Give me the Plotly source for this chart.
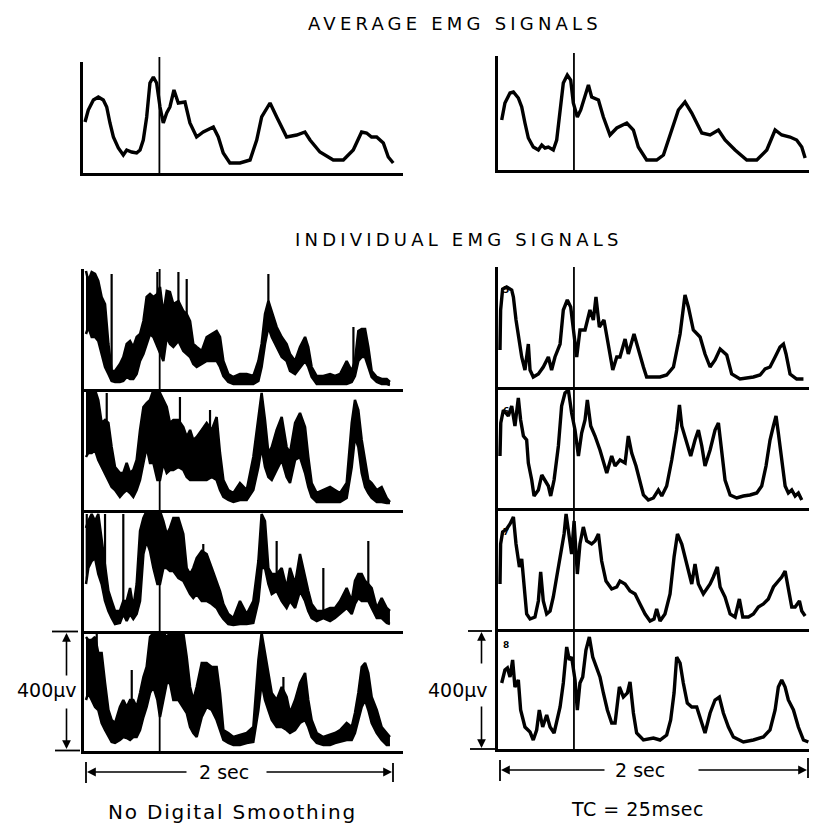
import numpy as np
import plotly.graph_objects as go

W, H = 817, 835          # target window
OFF = 8                  # default page body margin
FW, FH = W - OFF, H - OFF
FONT = "DejaVu Sans"

# ---------------- DATA ----------------
# time in seconds, amplitude in display units (120 units = 400 uV)
EVENT_T = 0.48
trial_labels = ["5", "6", "7", "8"]

# Average EMG, no digital smoothing
avg_raw_t = [0.0, 0.021, 0.054, 0.086, 0.118, 0.14, 0.161, 0.183, 0.215, 0.247,
             0.269, 0.301, 0.333, 0.355, 0.376, 0.398, 0.419, 0.441, 0.462, 0.484,
             0.505, 0.527, 0.548, 0.574, 0.602, 0.645, 0.677, 0.72, 0.763, 0.828,
             0.86, 0.892, 0.935, 1.0, 1.065, 1.108, 1.14, 1.194, 1.237, 1.301,
             1.366, 1.419, 1.452, 1.516, 1.602, 1.667, 1.731, 1.785, 1.817, 1.849,
             1.882, 1.925, 1.957, 1.989]
avg_raw_amp = [51, 63, 73, 76, 73, 66, 50, 36, 25, 18,
               23, 21, 20, 23, 33, 56, 90, 96, 90, 66,
               50, 60, 66, 83, 70, 71, 50, 36, 41, 46,
               36, 20, 10, 10, 13, 33, 56, 70, 56, 36,
               38, 41, 33, 21, 13, 13, 23, 41, 40, 36,
               36, 30, 16, 10]

# Average EMG, TC = 25 msec
avg_tc_t = [0.011, 0.032, 0.065, 0.087, 0.119, 0.141, 0.162, 0.184, 0.216, 0.249,
            0.271, 0.292, 0.314, 0.346, 0.368, 0.39, 0.411, 0.437, 0.459, 0.476,
            0.502, 0.524, 0.552, 0.574, 0.595, 0.639, 0.671, 0.714, 0.758, 0.823,
            0.866, 0.898, 0.952, 1.017, 1.061, 1.115, 1.158, 1.201, 1.245, 1.31,
            1.364, 1.418, 1.461, 1.526, 1.602, 1.667, 1.732, 1.786, 1.829, 1.883,
            1.926, 1.959, 1.981]
avg_tc_amp = [50, 67, 77, 78, 72, 63, 47, 32, 23, 20,
              25, 22, 23, 20, 30, 60, 87, 95, 90, 67,
              53, 60, 73, 85, 73, 70, 53, 35, 42, 47,
              40, 23, 10, 10, 15, 40, 60, 68, 57, 37,
              35, 40, 30, 20, 10, 10, 20, 40, 35, 33,
              30, 23, 12]

# Individual EMG, no smoothing: upper / lower envelope of the noisy trace
raw_t = [0.0, 0.015, 0.037, 0.059, 0.08, 0.102, 0.124, 0.146, 0.167, 0.189,
         0.221, 0.243, 0.265, 0.287, 0.308, 0.33, 0.352, 0.374, 0.395, 0.417,
         0.439, 0.465, 0.482, 0.504, 0.526, 0.547, 0.569, 0.602, 0.634, 0.656,
         0.678, 0.699, 0.721, 0.754, 0.786, 0.819, 0.851, 0.873, 0.895, 0.927,
         0.96, 1.003, 1.047, 1.09, 1.123, 1.144, 1.166, 1.188, 1.21, 1.242,
         1.275, 1.307, 1.329, 1.362, 1.394, 1.427, 1.448, 1.47, 1.503, 1.546,
         1.59, 1.622, 1.655, 1.698, 1.731, 1.752, 1.774, 1.796, 1.818, 1.839,
         1.861, 1.894, 1.926, 1.959, 1.98]

raw_upper_1 = [118, 108, 117, 115, 108, 92, 85, 45, 18, 18,
               25, 32, 45, 48, 42, 52, 55, 68, 92, 95,
               92, 95, 102, 75, 98, 97, 85, 88, 78, 75,
               68, 45, 42, 38, 52, 55, 58, 52, 28, 15,
               12, 15, 15, 13, 28, 45, 75, 88, 78, 62,
               52, 45, 35, 28, 42, 52, 42, 22, 13, 13,
               15, 13, 15, 28, 18, 28, 58, 60, 60, 42,
               18, 12, 10, 10, 7]
raw_lower_1 = [55, 62, 52, 52, 48, 35, 22, 15, 8, 7,
               7, 8, 12, 10, 10, 15, 28, 35, 45, 55,
               52, 42, 35, 28, 52, 45, 42, 48, 38, 35,
               32, 25, 22, 25, 28, 28, 28, 22, 13, 7,
               5, 5, 5, 5, 8, 22, 45, 62, 52, 42,
               32, 28, 18, 15, 22, 28, 22, 12, 5, 5,
               5, 5, 5, 5, 7, 13, 28, 32, 32, 22,
               12, 7, 5, 5, 4]
raw_spike_t_1 = [0.167, 0.465, 0.602, 0.656, 1.188, 1.742]
raw_spike_amp_1 = [115, 117, 117, 110, 115, 62]

raw_upper_2 = [120, 120, 120, 120, 110, 87, 90, 87, 63, 43,
               37, 37, 47, 37, 40, 50, 80, 103, 107, 110,
               120, 120, 117, 110, 103, 87, 90, 90, 83, 73,
               80, 70, 73, 80, 87, 80, 93, 57, 30, 20,
               17, 27, 20, 53, 90, 117, 90, 57, 63, 80,
               93, 63, 57, 87, 97, 83, 53, 27, 17, 20,
               23, 20, 17, 27, 87, 110, 100, 70, 47, 30,
               27, 20, 23, 12, 8]
raw_lower_2 = [53, 57, 57, 60, 50, 43, 37, 30, 23, 20,
               13, 17, 20, 17, 13, 20, 30, 47, 63, 47,
               47, 30, 30, 47, 37, 40, 40, 43, 40, 33,
               30, 30, 30, 30, 30, 33, 30, 20, 13, 10,
               8, 10, 10, 20, 43, 63, 43, 33, 30, 40,
               50, 33, 27, 50, 53, 37, 23, 13, 8, 8,
               8, 8, 8, 12, 43, 73, 63, 37, 23, 17,
               12, 8, 8, 7, 7]
raw_spike_t_2 = [0.135, 0.612, 0.808]
raw_spike_amp_2 = [117, 113, 100]

raw_upper_3 = [103, 110, 117, 110, 117, 90, 63, 40, 30, 20,
               20, 30, 30, 43, 23, 47, 100, 113, 120, 120,
               120, 120, 120, 110, 97, 103, 113, 113, 97, 63,
               57, 63, 73, 80, 77, 63, 50, 40, 27, 17,
               13, 30, 17, 30, 70, 117, 110, 63, 57, 57,
               63, 43, 63, 47, 77, 53, 40, 27, 20, 20,
               23, 23, 30, 43, 30, 50, 57, 57, 50, 47,
               43, 23, 33, 23, 20]
raw_lower_3 = [47, 63, 70, 73, 57, 47, 30, 20, 13, 7,
               8, 17, 10, 17, 12, 17, 30, 77, 90, 80,
               63, 47, 47, 63, 63, 60, 60, 53, 50, 43,
               37, 33, 37, 30, 30, 27, 23, 17, 12, 7,
               6, 7, 7, 8, 30, 63, 63, 47, 37, 40,
               30, 23, 30, 23, 40, 30, 20, 13, 10, 13,
               10, 13, 17, 23, 17, 27, 33, 30, 30, 30,
               23, 13, 13, 8, 7]
raw_spike_t_3 = [0.005, 0.124, 0.243, 0.764, 1.242, 1.546, 1.839]
raw_spike_amp_3 = [117, 117, 117, 87, 90, 63, 90]

raw_upper_4 = [114, 111, 111, 114, 98, 98, 68, 41, 31, 28,
               44, 51, 44, 51, 51, 44, 58, 74, 84, 114,
               118, 118, 118, 118, 114, 118, 118, 118, 118, 94,
               64, 51, 64, 88, 88, 84, 84, 58, 21, 18,
               14, 16, 18, 24, 91, 118, 98, 74, 58, 51,
               64, 54, 38, 51, 68, 78, 51, 31, 18, 14,
               16, 18, 21, 28, 24, 38, 58, 84, 88, 78,
               54, 41, 24, 18, 14]
raw_lower_4 = [51, 58, 51, 44, 41, 28, 21, 14, 9, 8,
               11, 14, 13, 11, 14, 14, 21, 34, 44, 58,
               64, 51, 34, 51, 68, 68, 51, 51, 44, 38,
               24, 18, 14, 34, 44, 41, 31, 21, 11, 8,
               6, 6, 8, 9, 41, 68, 51, 41, 31, 24,
               24, 21, 18, 21, 28, 31, 24, 14, 8, 6,
               6, 8, 9, 11, 11, 18, 31, 44, 51, 41,
               28, 18, 11, 6, 6]
raw_spike_t_4 = [0.07, 0.298, 1.286]
raw_spike_amp_4 = [118, 81, 74]

# Individual EMG, TC = 25 msec
tc_t_1 = [0.0, 0.004, 0.017, 0.043, 0.076, 0.087, 0.104, 0.126, 0.141, 0.162,
          0.184, 0.195, 0.216, 0.249, 0.281, 0.314, 0.335, 0.357, 0.39, 0.411,
          0.437, 0.459, 0.476, 0.498, 0.519, 0.552, 0.584, 0.606, 0.623, 0.645,
          0.675, 0.703, 0.732, 0.758, 0.779, 0.812, 0.833, 0.87, 0.898, 0.931,
          0.952, 1.039, 1.082, 1.126, 1.169, 1.201, 1.223, 1.255, 1.299, 1.331,
          1.364, 1.396, 1.429, 1.472, 1.504, 1.558, 1.645, 1.688, 1.721, 1.753,
          1.786, 1.818, 1.84, 1.857, 1.883, 1.926, 1.97]
tc_amp_1 = [37, 77, 98, 100, 97, 90, 67, 47, 30, 17,
            43, 17, 10, 13, 20, 30, 17, 30, 43, 77,
            87, 80, 60, 30, 57, 57, 77, 67, 90, 60,
            67, 40, 17, 30, 30, 48, 33, 53, 37, 20,
            10, 10, 12, 20, 53, 92, 80, 57, 50, 33,
            20, 27, 38, 32, 13, 8, 10, 12, 18, 20,
            30, 40, 43, 33, 13, 8, 8]

tc_t_2 = [0.0, 0.005, 0.022, 0.054, 0.076, 0.097, 0.119, 0.134, 0.152, 0.173,
          0.184, 0.206, 0.221, 0.249, 0.271, 0.292, 0.314, 0.329, 0.351, 0.379,
          0.4, 0.422, 0.444, 0.465, 0.487, 0.509, 0.53, 0.552, 0.567, 0.589,
          0.617, 0.649, 0.671, 0.693, 0.725, 0.747, 0.779, 0.812, 0.833, 0.855,
          0.883, 0.905, 0.931, 0.963, 0.996, 1.028, 1.05, 1.082, 1.115, 1.147,
          1.165, 1.18, 1.212, 1.238, 1.266, 1.288, 1.31, 1.331, 1.364, 1.396,
          1.418, 1.439, 1.461, 1.494, 1.537, 1.58, 1.623, 1.667, 1.699, 1.727,
          1.753, 1.775, 1.792, 1.807, 1.829, 1.851, 1.872, 1.894, 1.916, 1.937,
          1.959]
tc_amp_2 = [52, 85, 98, 92, 102, 82, 110, 88, 72, 68,
            45, 28, 12, 18, 33, 28, 22, 12, 28, 62,
            102, 115, 118, 95, 78, 52, 75, 88, 108, 82,
            72, 58, 45, 35, 52, 42, 48, 45, 72, 55,
            42, 28, 13, 8, 10, 18, 12, 22, 48, 78,
            103, 82, 65, 52, 68, 78, 62, 42, 58, 78,
            85, 55, 28, 13, 10, 12, 13, 15, 22, 42,
            68, 82, 92, 75, 48, 22, 15, 18, 12, 15,
            8]

tc_t_3 = [0.0, 0.004, 0.017, 0.043, 0.065, 0.087, 0.104, 0.126, 0.141, 0.156,
          0.173, 0.195, 0.227, 0.249, 0.264, 0.281, 0.303, 0.325, 0.346, 0.368,
          0.39, 0.416, 0.429, 0.446, 0.465, 0.481, 0.502, 0.519, 0.541, 0.563,
          0.595, 0.617, 0.639, 0.66, 0.688, 0.725, 0.758, 0.779, 0.812, 0.844,
          0.877, 0.909, 0.942, 0.974, 1.0, 1.017, 1.039, 1.071, 1.104, 1.13,
          1.152, 1.18, 1.212, 1.245, 1.266, 1.288, 1.32, 1.364, 1.385, 1.411,
          1.429, 1.461, 1.494, 1.526, 1.554, 1.576, 1.613, 1.645, 1.677, 1.71,
          1.742, 1.775, 1.807, 1.829, 1.851, 1.872, 1.894, 1.916, 1.944, 1.959,
          1.981]
tc_amp_3 = [45, 85, 97, 100, 105, 112, 85, 62, 70, 42,
            15, 10, 12, 28, 57, 28, 15, 18, 32, 52,
            72, 95, 115, 98, 75, 108, 55, 85, 102, 88,
            85, 88, 95, 68, 48, 40, 42, 48, 45, 38,
            35, 25, 15, 8, 10, 20, 8, 15, 35, 72,
            95, 85, 65, 45, 65, 45, 35, 45, 52, 62,
            42, 32, 15, 12, 30, 12, 12, 15, 22, 25,
            30, 42, 48, 52, 58, 38, 22, 22, 28, 18,
            13]

tc_t_4 = [0.011, 0.032, 0.048, 0.065, 0.082, 0.097, 0.119, 0.134, 0.162, 0.195,
          0.216, 0.238, 0.255, 0.277, 0.303, 0.325, 0.351, 0.372, 0.39, 0.411,
          0.433, 0.45, 0.465, 0.487, 0.502, 0.519, 0.537, 0.558, 0.58, 0.602,
          0.628, 0.649, 0.671, 0.697, 0.725, 0.747, 0.775, 0.801, 0.827, 0.844,
          0.866, 0.887, 0.931, 0.996, 1.039, 1.082, 1.108, 1.13, 1.147, 1.169,
          1.19, 1.216, 1.245, 1.277, 1.31, 1.331, 1.364, 1.396, 1.424, 1.45,
          1.483, 1.515, 1.58, 1.645, 1.71, 1.753, 1.786, 1.807, 1.829, 1.851,
          1.872, 1.905, 1.937, 1.97, 2.002]
tc_amp_4 = [66, 79, 81, 72, 89, 62, 69, 39, 22, 17,
            9, 19, 39, 22, 34, 22, 16, 29, 42, 66,
            102, 89, 92, 69, 39, 66, 72, 99, 112, 92,
            82, 72, 56, 39, 26, 26, 62, 52, 56, 67,
            36, 16, 9, 11, 9, 14, 29, 56, 92, 86,
            66, 46, 42, 42, 26, 16, 36, 49, 52, 36,
            22, 12, 7, 9, 12, 19, 39, 62, 69, 62,
            49, 39, 22, 9, 7]

raw_rows = [
    (raw_upper_1, raw_lower_1, raw_spike_t_1, raw_spike_amp_1),
    (raw_upper_2, raw_lower_2, raw_spike_t_2, raw_spike_amp_2),
    (raw_upper_3, raw_lower_3, raw_spike_t_3, raw_spike_amp_3),
    (raw_upper_4, raw_lower_4, raw_spike_t_4, raw_spike_amp_4),
]
tc_rows = [(tc_t_1, tc_amp_1), (tc_t_2, tc_amp_2), (tc_t_3, tc_amp_3), (tc_t_4, tc_amp_4)]

# ---------------- LAYOUT GEOMETRY (window pixels) ----------------
ROW_H = 120
LEFT_X = (84, 403)
RIGHT_X = (498, 815)
LEFT_BASES = [389, 510, 631, 751]
RIGHT_BASES = [387, 508, 629, 749]
XR_LEFT = [-0.013, 2.065]
XR_RIGHT = [-0.013, 2.045]


def px(x):
    return (x - OFF) / FW


def py(y):
    return 1 - (y - OFF) / FH


fig = go.Figure()
layout = {}


def add_axes(idx, x0, x1, base, top, xr, ytop, ylw=2.5):
    xs = "" if idx == 1 else str(idx)
    layout["xaxis" + xs] = dict(domain=[px(x0), px(x1)], range=xr, anchor="y" + xs,
                                showgrid=False, zeroline=False, showticklabels=False,
                                ticks="", showline=True, linecolor="black", linewidth=3,
                                fixedrange=True)
    layout["yaxis" + xs] = dict(domain=[py(base), py(top)], range=[0, ytop], anchor="x" + xs,
                                showgrid=False, zeroline=False, showticklabels=False,
                                ticks="", showline=True, linecolor="black", linewidth=ylw,
                                fixedrange=True)
    return "x" + xs, "y" + xs


line_style = dict(color="black", width=3.4, shape="linear")

# Average panels
xa, ya = add_axes(1, 83, 403, 173, 62, [-0.013, 2.052], 111)
fig.add_trace(go.Scatter(x=avg_raw_t, y=avg_raw_amp, mode="lines", line=line_style,
                         xaxis=xa, yaxis=ya, hoverinfo="skip"))
xa, ya = add_axes(2, 498, 815, 170, 56, XR_RIGHT, 114)
fig.add_trace(go.Scatter(x=avg_tc_t, y=avg_tc_amp, mode="lines", line=line_style,
                         xaxis=xa, yaxis=ya, hoverinfo="skip"))

# Individual, no smoothing
for i, (up, lo, st, sa) in enumerate(raw_rows):
    base = LEFT_BASES[i]
    xa, ya = add_axes(3 + i, LEFT_X[0], LEFT_X[1], base, base - ROW_H, XR_LEFT, ROW_H, 3)
    fig.add_trace(go.Scatter(x=raw_t, y=lo, mode="lines", line=dict(color="black", width=2.5),
                             xaxis=xa, yaxis=ya, hoverinfo="skip"))
    fig.add_trace(go.Scatter(x=raw_t, y=up, mode="lines", line=dict(color="black", width=2.5),
                             fill="tonexty", fillcolor="black",
                             xaxis=xa, yaxis=ya, hoverinfo="skip"))
    base_at = np.interp(st, raw_t, lo)
    sx, sy = [], []
    for t, a, b in zip(st, sa, base_at):
        sx += [t, t, None]
        sy += [b, a, None]
    fig.add_trace(go.Scatter(x=sx, y=sy, mode="lines", line=dict(color="black", width=2.2),
                             xaxis=xa, yaxis=ya, hoverinfo="skip"))

# Individual, TC = 25 msec
for i, (tt, aa) in enumerate(tc_rows):
    base = RIGHT_BASES[i]
    xa, ya = add_axes(7 + i, RIGHT_X[0], RIGHT_X[1], base, base - ROW_H, XR_RIGHT, ROW_H, 3)
    fig.add_trace(go.Scatter(x=tt, y=aa, mode="lines", line=line_style,
                             xaxis=xa, yaxis=ya, hoverinfo="skip"))

# Event markers (vertical lines at EVENT_T)
shapes = []
for xref, y0, y1 in [("x", 57, 173), ("x2", 53, 170), ("x3", 269, 751), ("x7", 267, 749)]:
    shapes.append(dict(type="line", xref=xref, yref="paper", x0=EVENT_T, x1=EVENT_T,
                       y0=py(y1), y1=py(y0), line=dict(color="black", width=1.8)))


def seg(x0, y0, x1, y1, w=1.8):
    shapes.append(dict(type="line", xref="paper", yref="paper", x0=px(x0), y0=py(y0),
                       x1=px(x1), y1=py(y1), line=dict(color="black", width=w)))


# 400 uV scale-bar ticks
seg(52, 631.5, 78, 631.5)
seg(55, 750.5, 80, 750.5)
seg(468, 631, 492, 631)
seg(470, 749, 495, 749)
# 2 sec end ticks
seg(86, 762, 86, 783)
seg(393, 763, 393, 782)
seg(500, 760, 500, 781)
seg(808, 758, 808, 778)

annotations = []


def arrow(xt, yt, ax, ay):
    annotations.append(dict(x=px(xt), y=py(yt), xref="paper", yref="paper", text="",
                            showarrow=True, ax=ax, ay=ay, arrowhead=2, arrowsize=1.1,
                            arrowwidth=1.6, arrowcolor="black"))


arrow(66.5, 633, 0, 44)
arrow(66.5, 749, 0, -42)
arrow(481.5, 632, 0, 33)
arrow(481.5, 748, 0, -43)
arrow(87, 772, 101, 0)
arrow(392, 772, -127, 0)
arrow(501, 770, 105, 0)
arrow(807, 770, -110, 0)


def text(x, y, s, size, spacing=0):
    if spacing:
        s = '<span style="letter-spacing:%spx">%s</span>' % (spacing, s)
    annotations.append(dict(x=px(x), y=py(y), xref="paper", yref="paper", text=s,
                            showarrow=False, xanchor="center", yanchor="middle",
                            font=dict(family=FONT, size=size, color="black")))


text(455, 24, "AVERAGE EMG SIGNALS", 18, 4.2)
text(459, 240, "INDIVIDUAL EMG SIGNALS", 18, 4.2)
text(47, 690, "400µv", 19)
text(458, 690, "400µv", 19)
text(224, 772, "2 sec", 19)
text(640, 770, "2 sec", 19)
text(232, 812, "No Digital Smoothing", 20, 1.8)
text(637, 809, "TC = 25msec", 19, 0.5)

# small trial numbers
for i, lab in enumerate(trial_labels):
    annotations.append(dict(x=px(506), y=py(RIGHT_BASES[i] - 97), xref="paper", yref="paper",
                            text="<b>%s</b>" % lab, showarrow=False,
                            font=dict(family=FONT, size=9, color="black")))

fig.update_layout(width=FW, height=FH, autosize=False, margin=dict(l=0, r=0, t=0, b=0),
                  paper_bgcolor="white", plot_bgcolor="rgba(0,0,0,0)", showlegend=False,
                  shapes=shapes, annotations=annotations, **layout)

fig.write_html("out.html")
